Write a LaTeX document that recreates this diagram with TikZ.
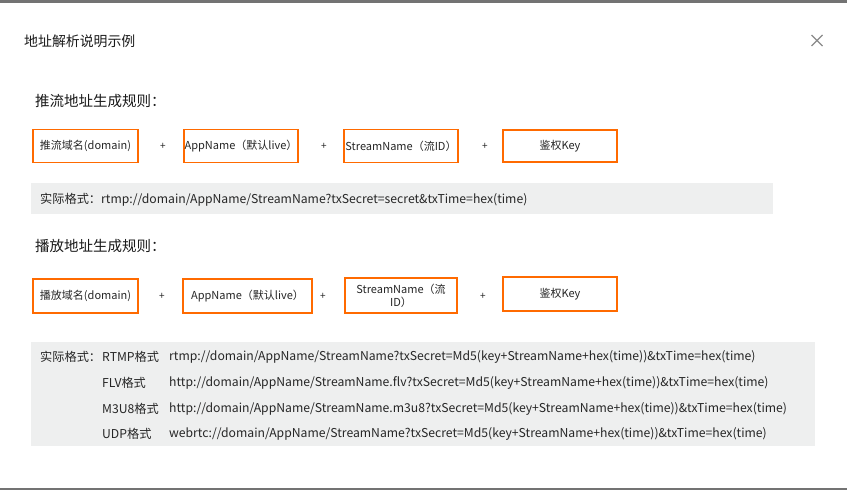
\documentclass[tikz,border=0pt]{standalone}
\usepackage{fontspec}
\setmainfont{Noto Sans CJK SC}
\definecolor{aliorange}{HTML}{FF6A00}
\definecolor{textgray}{HTML}{262626}
\definecolor{titlegray}{HTML}{1A1A1A}
\definecolor{bargray}{HTML}{737373}
\definecolor{panelgray}{HTML}{EEEFEF}
\definecolor{closegray}{HTML}{8A8A8A}
\begin{document}
\begin{tikzpicture}[x=1pt,y=-1pt,
  txt/.style={inner sep=0pt, text=textgray, anchor=west, font=\fontsize{12.2}{14}\selectfont},
  heading/.style={inner sep=0pt, text=titlegray, anchor=west, font=\fontsize{14.5}{16}\selectfont},
  keybox/.style={draw=aliorange, line width=1.8pt, fill=white, inner sep=0pt, align=center,
    font=\fontsize{11}{13}\selectfont, text=textgray},
  plus/.style={inner sep=0pt, font=\fontsize{10}{12}\selectfont, text=textgray},
  panel/.style={fill=panelgray, draw=none}]
\useasboundingbox (0,0) rectangle (847,490);
\fill[white] (0,0) rectangle (847,490);
\fill[bargray] (0,0) rectangle (847,2.5);
\fill[bargray] (0,487.5) rectangle (847,490);
% title
\node[inner sep=0pt, anchor=west, text=titlegray, font=\fontsize{13.9}{16}\selectfont] (title) at (24,41) {地址解析说明示例};
\coordinate (close) at (817,40.5);
\draw[closegray, line width=1.1pt] ([shift={(-5.5,-5.5)}]close) -- ([shift={(5.5,5.5)}]close)
  ([shift={(5.5,-5.5)}]close) -- ([shift={(-5.5,5.5)}]close);
% push section
\node[heading] (h1) at (35,101) {推流地址生成规则：};
\node[keybox, minimum width=105pt, minimum height=33pt] (a1) at (85.5,146) {推流域名(domain)};
\node[plus] (p1) at (163,146) {+};
\node[keybox, minimum width=114pt, minimum height=33pt] (a2) at (241,146) {AppName（默认live）};
\node[plus] (p2) at (324,146) {+};
\node[keybox, minimum width=114pt, minimum height=33pt] (a3) at (401,146) {StreamName（流ID）};
\node[plus] (p3) at (485,146) {+};
\node[keybox, minimum width=114pt, minimum height=32pt] (a4) at (560,146) {鉴权Key};
\path[panel] (31,183) rectangle (773,214);
\node[txt] (f1) at (40,199.5) {实际格式：rtmp://domain/AppName/StreamName?txSecret=secret\&txTime=hex(time)};
% play section
\node[heading] (h2) at (35,246) {播放地址生成规则：};
\node[keybox, minimum width=105pt, minimum height=34pt] (b1) at (85.5,296) {播放域名(domain)};
\node[plus] (q1) at (162,296) {+};
\node[keybox, minimum width=129pt, minimum height=34pt] (b2) at (247.5,296) {AppName（默认live）};
\node[plus] (q2) at (323,296) {+};
\node[keybox, minimum width=112pt, minimum height=35pt] (b3) at (401,295.5) {StreamName（流\\ID）};
\node[plus] (q3) at (483,296) {+};
\node[keybox, minimum width=114pt, minimum height=34pt] (b4) at (560,294) {鉴权Key};
\path[panel] (31,342) rectangle (815,446);
\node[txt] (g0) at (40,357) {实际格式：};
\node[txt] (g1) at (102,357) {RTMP格式};
\node[txt] (u1) at (169,357) {rtmp://domain/AppName/StreamName?txSecret=Md5(key+StreamName+hex(time))\&txTime=hex(time)};
\node[txt] (g2) at (102,383) {FLV格式};
\node[txt] (u2) at (169,383) {http://domain/AppName/StreamName.flv?txSecret=Md5(key+StreamName+hex(time))\&txTime=hex(time)};
\node[txt] (g3) at (102,409) {M3U8格式};
\node[txt] (u3) at (169,409) {http://domain/AppName/StreamName.m3u8?txSecret=Md5(key+StreamName+hex(time))\&txTime=hex(time)};
\node[txt] (g4) at (102,434) {UDP格式};
\node[txt] (u4) at (169,434) {webrtc://domain/AppName/StreamName?txSecret=Md5(key+StreamName+hex(time))\&txTime=hex(time)};
\end{tikzpicture}
\end{document}
